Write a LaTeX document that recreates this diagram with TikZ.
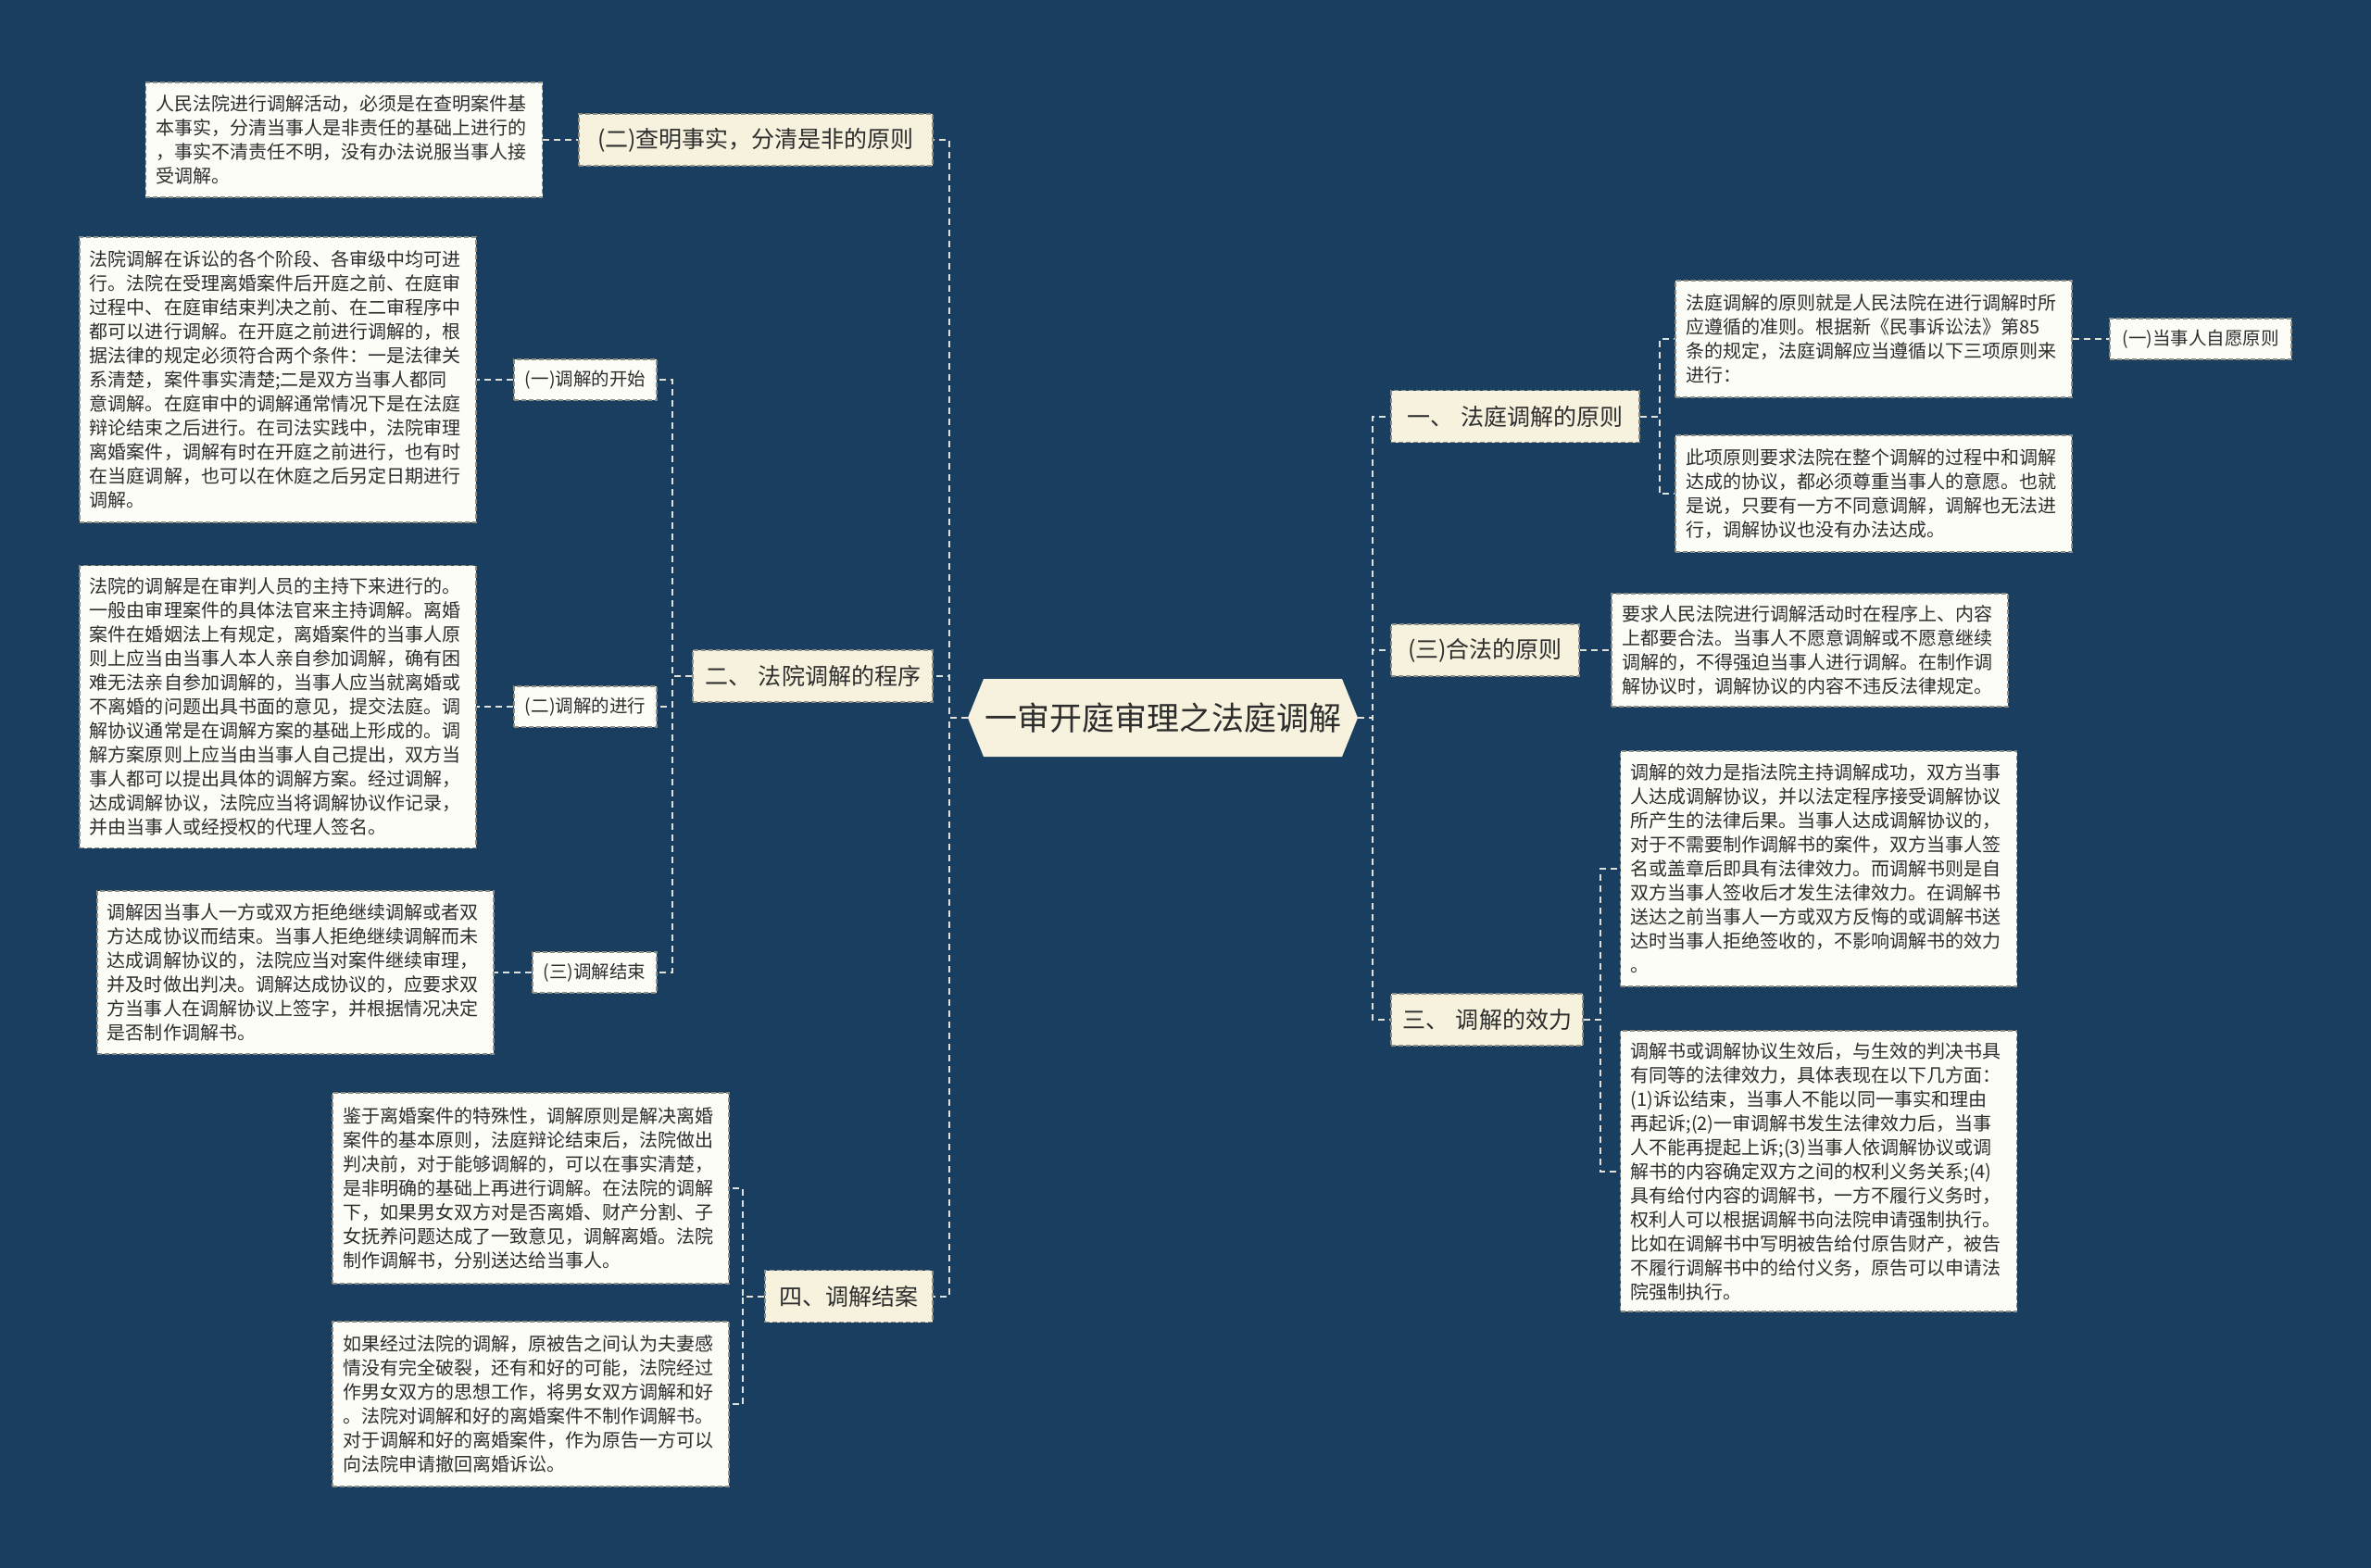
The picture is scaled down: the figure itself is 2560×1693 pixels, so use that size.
\documentclass[tikz,border=0pt]{standalone}
\usepackage{fontspec}
\setmainfont{Noto Sans CJK SC}
\usetikzlibrary{backgrounds}
\definecolor{bgc}{RGB}{25,62,95}
\definecolor{cream}{RGB}{247,242,222}
\definecolor{leaff}{RGB}{253,253,248}
\definecolor{bord}{RGB}{140,140,130}
\definecolor{linec}{RGB}{225,225,220}
\definecolor{txt}{RGB}{45,45,45}
\tikzset{
 box/.style={draw=bord, line width=1.5bp, dash pattern=on 5bp off 3bp, text=txt, inner sep=0pt, align=center},
 leaf/.style={box, fill=leaff, text width=406bp, inner xsep=11bp, align=left, font=\fontsize{20bp}{26bp}\selectfont},
 lone/.style={box, fill=cream, minimum height=56bp, font=\fontsize{25bp}{30bp}\selectfont},
 ltwo/.style={box, fill=leaff, minimum height=44bp, font=\fontsize{19.5bp}{24bp}\selectfont},
 conn/.style={draw=linec, line width=2bp, dash pattern=on 7bp off 5bp},
}
\begin{document}
\begin{tikzpicture}[x=1bp,y=-1bp]
\useasboundingbox (0,0) rectangle (2560,1693);
\begin{pgfonlayer}{background}
\fill[bgc] (0,0) rectangle (2560,1693);
\end{pgfonlayer}

% hub
\fill[cream] (1045,775) -- (1062,733) -- (1449,733) -- (1466,775) -- (1449,817) -- (1062,817) -- cycle;
\node[font=\fontsize{35bp}{40bp}\selectfont, text=txt, inner sep=0pt] (hub) at (1255.5,775) {一审开庭审理之法庭调解};
\coordinate (hubW) at (1045,775);
\coordinate (hubE) at (1466,775);

% level 1
\node[lone, minimum width=382bp] (Bii) at (816,151) {(二)查明事实，分清是非的原则};
\node[lone, minimum width=259bp] (proc) at (877.5,730) {二、\hspace{8bp}法院调解的程序};
\node[lone, minimum width=181bp] (endc) at (916.5,1399.5) {四、调解结案};
\node[lone, minimum width=268bp] (prin) at (1636,449.5) {一、\hspace{8bp}法庭调解的原则};
\node[lone, minimum width=203bp] (legal) at (1603.5,702) {(三)合法的原则};
\node[lone, minimum width=207bp] (eff) at (1605.5,1101) {三、\hspace{8bp}调解的效力};

% level 2
\node[ltwo, minimum width=154bp] (s1) at (632,410) {(一)调解的开始};
\node[ltwo, minimum width=154bp] (s2) at (632,763) {(二)调解的进行};
\node[ltwo, minimum width=134bp] (s3) at (642,1050) {(三)调解结束};
\node[ltwo, minimum width=196bp] (vol) at (2376,366) {(一)当事人自愿原则};

% leaves
\node[leaf, minimum height=124bp] (A1) at (371.5,151) {人民法院进行调解活动，必须是在查明案件基\\本事实，分清当事人是非责任的基础上进行的\\，事实不清责任不明，没有办法说服当事人接\\受调解。};
\node[leaf, minimum height=308bp] (L1) at (300,410) {法院调解在诉讼的各个阶段、各审级中均可进\\行。法院在受理离婚案件后开庭之前、在庭审\\过程中、在庭审结束判决之前、在二审程序中\\都可以进行调解。在开庭之前进行调解的，根\\据法律的规定必须符合两个条件：一是法律关\\系清楚，案件事实清楚;二是双方当事人都同\\意调解。在庭审中的调解通常情况下是在法庭\\辩论结束之后进行。在司法实践中，法院审理\\离婚案件，调解有时在开庭之前进行，也有时\\在当庭调解，也可以在休庭之后另定日期进行\\调解。};
\node[leaf, minimum height=305bp] (L2) at (300,763) {法院的调解是在审判人员的主持下来进行的。\\一般由审理案件的具体法官来主持调解。离婚\\案件在婚姻法上有规定，离婚案件的当事人原\\则上应当由当事人本人亲自参加调解，确有困\\难无法亲自参加调解的，当事人应当就离婚或\\不离婚的问题出具书面的意见，提交法庭。调\\解协议通常是在调解方案的基础上形成的。调\\解方案原则上应当由当事人自己提出，双方当\\事人都可以提出具体的调解方案。经过调解，\\达成调解协议，法院应当将调解协议作记录，\\并由当事人或经授权的代理人签名。};
\node[leaf, minimum height=176bp] (L3) at (319,1050) {调解因当事人一方或双方拒绝继续调解或者双\\方达成协议而结束。当事人拒绝继续调解而未\\达成调解协议的，法院应当对案件继续审理，\\并及时做出判决。调解达成协议的，应要求双\\方当事人在调解协议上签字，并根据情况决定\\是否制作调解书。};
\node[leaf, minimum height=206bp] (L4) at (573,1283) {鉴于离婚案件的特殊性，调解原则是解决离婚\\案件的基本原则，法庭辩论结束后，法院做出\\判决前，对于能够调解的，可以在事实清楚，\\是非明确的基础上再进行调解。在法院的调解\\下，如果男女双方对是否离婚、财产分割、子\\女抚养问题达成了一致意见，调解离婚。法院\\制作调解书，分别送达给当事人。};
\node[leaf, minimum height=178bp] (L5) at (573,1516) {如果经过法院的调解，原被告之间认为夫妻感\\情没有完全破裂，还有和好的可能，法院经过\\作男女双方的思想工作，将男女双方调解和好\\。法院对调解和好的离婚案件不制作调解书。\\对于调解和好的离婚案件，作为原告一方可以\\向法院申请撤回离婚诉讼。};
\node[leaf, minimum height=126bp] (R1) at (2023,366) {法庭调解的原则就是人民法院在进行调解时所\\应遵循的准则。根据新《民事诉讼法》第85\\条的规定，法庭调解应当遵循以下三项原则来\\进行：};
\node[leaf, minimum height=126bp] (R2) at (2023,533) {此项原则要求法院在整个调解的过程中和调解\\达成的协议，都必须尊重当事人的意愿。也就\\是说，只要有一方不同意调解，调解也无法进\\行，调解协议也没有办法达成。};
\node[leaf, minimum height=122bp] (R3) at (1954,702) {要求人民法院进行调解活动时在程序上、内容\\上都要合法。当事人不愿意调解或不愿意继续\\调解的，不得强迫当事人进行调解。在制作调\\解协议时，调解协议的内容不违反法律规定。};
\node[leaf, minimum height=254bp] (R4) at (1963.5,938) {调解的效力是指法院主持调解成功，双方当事\\人达成调解协议，并以法定程序接受调解协议\\所产生的法律后果。当事人达成调解协议的，\\对于不需要制作调解书的案件，双方当事人签\\名或盖章后即具有法律效力。而调解书则是自\\双方当事人签收后才发生法律效力。在调解书\\送达之前当事人一方或双方反悔的或调解书送\\达时当事人拒绝签收的，不影响调解书的效力\\。};
\node[leaf, minimum height=303bp] (R5) at (1963.5,1264.5) {调解书或调解协议生效后，与生效的判决书具\\有同等的法律效力，具体表现在以下几方面：\\(1)诉讼结束，当事人不能以同一事实和理由\\再起诉;(2)一审调解书发生法律效力后，当事\\人不能再提起上诉;(3)当事人依调解协议或调\\解书的内容确定双方之间的权利义务关系;(4)\\具有给付内容的调解书，一方不履行义务时，\\权利人可以根据调解书向法院申请强制执行。\\比如在调解书中写明被告给付原告财产，被告\\不履行调解书中的给付义务，原告可以申请法\\院强制执行。};

% connectors
\begin{pgfonlayer}{background}
\draw[conn] (hubW) -- ++(-20,0) |- (Bii.east);
\draw[conn] (hubW) -- ++(-20,0) |- (proc.east);
\draw[conn] (hubW) -- ++(-20,0) |- (endc.east);
\draw[conn] (A1.east) -- (Bii.west);
\draw[conn] (proc.west) -- ++(-21,0) |- (s1.east);
\draw[conn] (proc.west) -- ++(-21,0) |- (s2.east);
\draw[conn] (proc.west) -- ++(-21,0) |- (s3.east);
\draw[conn] (s1.west) -- (L1.east);
\draw[conn] (s2.west) -- (L2.east);
\draw[conn] (s3.west) -- (L3.east);
\draw[conn] (endc.west) -- ++(-23,0) |- (L4.east);
\draw[conn] (endc.west) -- ++(-23,0) |- (L5.east);
\draw[conn] (hubE) -- ++(16,0) |- (prin.west);
\draw[conn] (hubE) -- ++(16,0) |- (legal.west);
\draw[conn] (hubE) -- ++(16,0) |- (eff.west);
\draw[conn] (prin.east) -- ++(21,0) |- (R1.west);
\draw[conn] (prin.east) -- ++(21,0) |- (R2.west);
\draw[conn] (R1.east) -- (vol.west);
\draw[conn] (legal.east) -- (R3.west);
\draw[conn] (eff.east) -- ++(18,0) |- (R4.west);
\draw[conn] (eff.east) -- ++(18,0) |- (R5.west);
\end{pgfonlayer}
\end{tikzpicture}
\end{document}
